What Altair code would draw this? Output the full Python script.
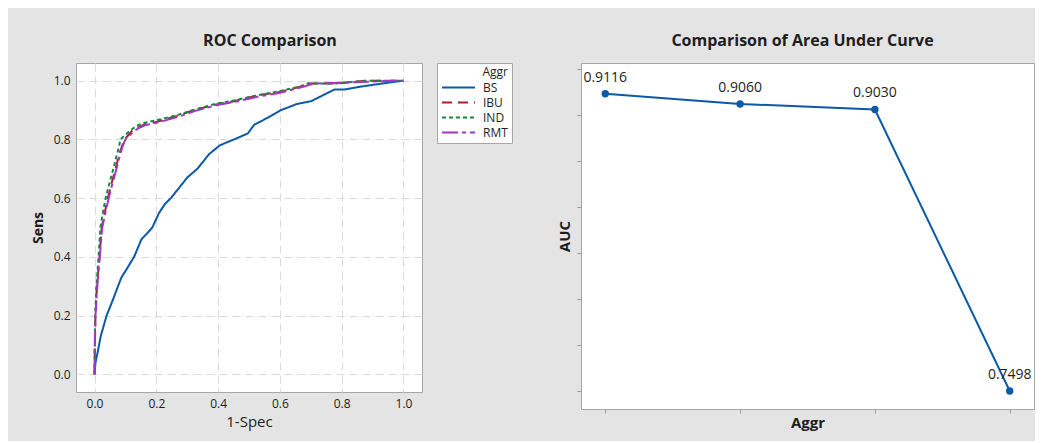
import altair as alt
import pandas as pd

# ---------------- data ----------------
series_names = ["BS", "IBU", "IND", "RMT"]

bs_fpr = [0, 0.003, 0.011, 0.02, 0.039, 0.058, 0.076, 0.087, 0.105, 0.128, 0.152, 0.17, 0.187, 0.209,
          0.228, 0.247, 0.27, 0.30, 0.333, 0.371, 0.406, 0.452, 0.496, 0.517, 0.545, 0.571, 0.604,
          0.63, 0.653, 0.701, 0.739, 0.777, 0.81, 0.864, 0.93, 1.0]
bs_tpr = [0, 0.04, 0.08, 0.13, 0.2, 0.25, 0.3, 0.33, 0.36, 0.4, 0.46, 0.48, 0.5, 0.55,
          0.58, 0.6, 0.63, 0.67, 0.7, 0.75, 0.78, 0.8, 0.82, 0.85, 0.865, 0.88, 0.9,
          0.91, 0.92, 0.93, 0.95, 0.97, 0.97, 0.98, 0.99, 1.0]

ibu_fpr = [0, 0.001, 0.003, 0.008, 0.016, 0.023, 0.033, 0.043, 0.055, 0.068, 0.08, 0.09, 0.097,
           0.11, 0.122, 0.14, 0.16, 0.203, 0.268, 0.322, 0.398, 0.452, 0.528, 0.593, 0.669, 0.69,
           0.777, 0.885, 1.0]
ibu_tpr = [0, 0.1, 0.2, 0.3, 0.4, 0.5, 0.55, 0.6, 0.65, 0.7, 0.75, 0.78, 0.8,
           0.815, 0.83, 0.84, 0.85, 0.86, 0.88, 0.9, 0.92, 0.93, 0.95, 0.96, 0.98, 0.99,
           0.99, 1.0, 1.0]

ind_fpr = [0, 0.001, 0.002, 0.006, 0.013, 0.019, 0.027, 0.036, 0.048, 0.061, 0.073, 0.08, 0.084,
           0.1, 0.115, 0.135, 0.155, 0.2, 0.265, 0.32, 0.395, 0.45, 0.525, 0.59, 0.665, 0.69,
           0.777, 0.885, 1.0]
ind_tpr = [0, 0.1, 0.2, 0.3, 0.4, 0.5, 0.55, 0.6, 0.65, 0.7, 0.75, 0.78, 0.8,
           0.815, 0.83, 0.845, 0.855, 0.865, 0.882, 0.9, 0.922, 0.932, 0.95, 0.962, 0.98, 0.99,
           0.99, 1.0, 1.0]

rmt_fpr = [0, 0.001, 0.003, 0.009, 0.017, 0.025, 0.035, 0.046, 0.058, 0.071, 0.083, 0.092, 0.1,
           0.113, 0.125, 0.143, 0.163, 0.206, 0.272, 0.326, 0.402, 0.456, 0.532, 0.597, 0.672,
           0.71, 0.8, 0.9, 1.0]
rmt_tpr = [0, 0.1, 0.2, 0.3, 0.4, 0.5, 0.55, 0.6, 0.65, 0.7, 0.75, 0.78, 0.8,
           0.812, 0.826, 0.838, 0.848, 0.858, 0.877, 0.897, 0.918, 0.928, 0.946, 0.958, 0.978, 0.99,
           0.993, 0.997, 1.0]

auc_groups = ["IND", "IBU", "RMT", "BS"]
auc_values = [0.9116, 0.9060, 0.9030, 0.7498]
auc_labels = ["0.9116", "0.9060", "0.9030", "0.7498"]

# ---------------- tables ----------------
rows = []
for name, fx, fy in [("BS", bs_fpr, bs_tpr), ("IBU", ibu_fpr, ibu_tpr),
                     ("IND", ind_fpr, ind_tpr), ("RMT", rmt_fpr, rmt_tpr)]:
    for i, (a, b) in enumerate(zip(fx, fy)):
        rows.append({"Aggr": name, "spec": a, "sens": b, "i": i})
roc = pd.DataFrame(rows)

auc = pd.DataFrame({"Aggr": auc_groups, "AUC": auc_values, "label": auc_labels})

FONT = "Open Sans"
TXT = "#1e1e1e"
colors = ["#0b5aa6", "#a3242a", "#16893a", "#a236c8"]
dashes = [[1, 0], [10, 6], [4, 3], [16, 4, 4, 4]]

grid_style = dict(grid=True, gridColor="#dadada", gridDash=[8, 5], gridWidth=1,
                  domain=False, ticks=False, labelFont=FONT, labelFontSize=12,
                  labelColor=TXT, titleFont=FONT, titleColor=TXT)

legend_style = dict(
    title="Aggr", orient="right", offset=15, padding=4, fillColor="white",
    strokeColor="#a6a6a6", symbolType="M-3,0H3", symbolSize=121, symbolStrokeWidth=2,
    symbolOffset=11, labelOffset=18,
    labelFont=FONT, labelFontSize=12, labelColor=TXT,
    titleFont=FONT, titleFontSize=12, titleFontWeight="normal", titleColor=TXT,
    titleAnchor="end", rowPadding=2, titlePadding=2,
)

roc_chart = alt.Chart(roc).mark_line(strokeWidth=2).encode(
    x=alt.X("spec:Q", title="1-Spec",
            scale=alt.Scale(domain=[-0.06, 1.06], nice=False, zero=False),
            axis=alt.Axis(values=[0, 0.2, 0.4, 0.6, 0.8, 1.0], format=".1f", labelPadding=6,
                          titleFontSize=15, titleFontWeight="normal", titlePadding=5,
                          **grid_style)),
    y=alt.Y("sens:Q", title="Sens",
            scale=alt.Scale(domain=[-0.06, 1.06], nice=False, zero=False),
            axis=alt.Axis(values=[0, 0.2, 0.4, 0.6, 0.8, 1.0], format=".1f", labelPadding=6,
                          titleFontSize=14, titleFontWeight="bold", titlePadding=8,
                          **grid_style)),
    color=alt.Color("Aggr:N", scale=alt.Scale(domain=series_names, range=colors),
                    legend=alt.Legend(**legend_style)),
    strokeDash=alt.StrokeDash("Aggr:N", scale=alt.Scale(domain=series_names, range=dashes),
                              legend=alt.Legend(**legend_style)),
    order="i:Q",
).properties(
    width=346, height=329,
    title=alt.TitleParams("ROC Comparison", font=FONT, fontSize=16, fontWeight="bold",
                          color=TXT, offset=14, dx=21),
)

base = alt.Chart(auc).encode(
    x=alt.X("Aggr:N", sort=None, title="Aggr",
            scale=alt.Scale(type="point", padding=0.18),
            axis=alt.Axis(labels=False, ticks=True, tickSize=4, tickColor="#9a9a9a",
                          domain=False, grid=False, titleFont=FONT, titleFontSize=15,
                          titleFontWeight="bold", titleColor=TXT, titlePadding=2)),
    y=alt.Y("AUC:Q", title="AUC",
            scale=alt.Scale(domain=[0.740, 0.9283], nice=False, zero=False),
            axis=alt.Axis(values=[0.75, 0.775, 0.8, 0.825, 0.85, 0.875, 0.9, 0.925],
                          labels=False, ticks=True, tickSize=4, tickColor="#9a9a9a",
                          domain=False, grid=False, titleFont=FONT, titleFontSize=15,
                          titleFontWeight="bold", titleColor=TXT, titlePadding=4)),
)
auc_line = base.mark_line(color=colors[0], strokeWidth=2)
auc_pts = base.mark_point(filled=True, color=colors[0], size=55, opacity=1)
auc_txt = base.mark_text(dy=-16, font=FONT, fontSize=14, color=TXT).encode(text="label:N")

auc_chart = alt.layer(auc_line, auc_pts, auc_txt).properties(
    width=453, height=346,
    title=alt.TitleParams("Comparison of Area Under Curve", font=FONT, fontSize=16,
                          fontWeight="bold", color=TXT, offset=14, dx=-5),
)

chart = alt.hconcat(roc_chart, auc_chart, spacing=44).resolve_scale(
    x="independent", y="independent", color="independent", strokeDash="independent"
).resolve_legend(
    color="independent", strokeDash="independent"
).configure(
    background="#e4e4e4",
    padding={"left": 22, "top": 24, "right": 0, "bottom": 10},
).configure_view(
    fill="white", stroke="#a6a6a6", strokeWidth=1,
)

chart.save("out.html", embed_options={"renderer": "svg", "actions": False})
